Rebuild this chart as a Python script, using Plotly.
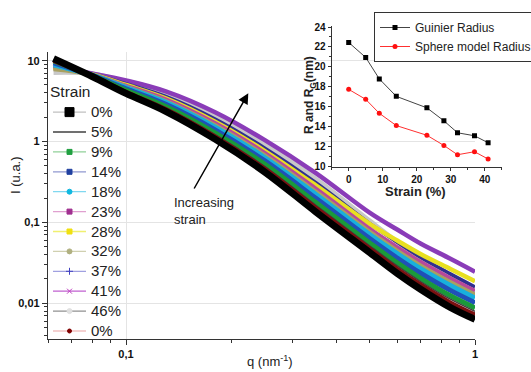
import plotly.graph_objects as go

# ---------------- data ----------------
q = [0.062, 0.08, 0.1, 0.13, 0.18, 0.25, 0.35, 0.5, 0.6, 0.7, 0.85, 1.0]

I_0 = [10.6, 6.37, 3.94, 2.36, 1.07, 0.419, 0.1346, 0.0421, 0.0232, 0.01475, 0.00885, 0.0063]
I_0b = [10.0, 6.43, 4.08, 2.50, 1.15, 0.458, 0.1503, 0.0471, 0.0263, 0.01682, 0.01016, 0.00721]
I_5 = [10.2, 6.46, 4.19, 2.60, 1.215, 0.489, 0.1625, 0.0510, 0.0287, 0.0184, 0.01121, 0.00793]
I_9 = [9.9, 6.50, 4.30, 2.71, 1.28, 0.521, 0.1755, 0.0553, 0.0313, 0.02018, 0.01235, 0.00873]
I_14 = [9.4, 6.56, 4.48, 2.88, 1.395, 0.575, 0.1983, 0.0626, 0.0359, 0.02329, 0.01439, 0.01014]
I_18 = [8.9, 6.62, 4.65, 3.05, 1.506, 0.630, 0.2216, 0.0701, 0.0407, 0.0265, 0.01653, 0.01161]
I_32 = [7.8, 6.65, 4.77, 3.17, 1.589, 0.671, 0.2394, 0.0760, 0.0444, 0.02906, 0.01822, 0.01277]
I_23 = [8.6, 6.70, 4.91, 3.32, 1.690, 0.722, 0.2616, 0.0831, 0.0491, 0.03225, 0.02036, 0.01424]
I_28 = [8.2, 6.73, 5.00, 3.42, 1.756, 0.762, 0.2858, 0.0953, 0.0592, 0.0403, 0.0265, 0.0187]
I_37 = [8.0, 6.79, 5.19, 3.61, 1.896, 0.827, 0.309, 0.0964, 0.0563, 0.0367, 0.02307, 0.01588]
I_46 = [7.1, 6.87, 5.44, 3.89, 2.094, 0.931, 0.345, 0.1043, 0.0570, 0.0349, 0.02065, 0.01386]
I_41 = [8.46, 6.94, 5.69, 4.17, 2.30, 1.04, 0.407, 0.131, 0.0809, 0.0543, 0.0355, 0.0245]

strain_labels = ["0%", "5%", "9%", "14%", "18%", "23%", "28%", "32%", "37%", "41%", "46%", "0%"]

x_tickvals = [0.1, 1]
x_ticktext = ["0,1", "1"]
y_tickvals = [0.01, 0.1, 1, 10]
y_ticktext = ["0,01", "0,1", "1", "10"]

inset_strain = [0, 5, 9, 14, 23, 28, 32, 37, 41]
guinier_radius = [22.45, 20.95, 18.8, 17.05, 15.9, 14.6, 13.4, 13.1, 12.4]
sphere_radius = [17.75, 16.75, 15.35, 14.12, 13.15, 12.13, 11.2, 11.5, 10.77]
inset_xticks = [0, 10, 20, 30, 40]
inset_yticks = [10, 12, 14, 16, 18, 20, 22, 24]

# ---------------- layout helpers ----------------
W, H = 531, 372
ML, MR, MT, MB = 48, 29, 24, 33
PW, PH = W - ML - MR, H - MT - MB


def px(x):
    return (x - ML) / PW


def py(y):
    return (H - MB - y) / PH


FONT = "Liberation Sans, Arial, sans-serif"

fig = go.Figure()

# ---------------- main curves ----------------
curves = [
    (I_46, "#c8c8c8", 4.5),
    (I_41, "#8a3cb8", 4.5),
    (I_37, "#303090", 3.5),
    (I_28, "#e8e020", 4.5),
    (I_23, "#b8489c", 4.0),
    (I_32, "#a8a060", 4.0),
    (I_18, "#18b0dc", 5.0),
    (I_14, "#2050b8", 5.0),
    (I_9, "#1a9a3a", 5.0),
    (I_5, "#404040", 1.5),
    (I_0b, "#7a1010", 4.5),
    (I_0, "#000000", 7.0),
]
for vals, col, w in curves:
    fig.add_trace(go.Scatter(x=q, y=vals, mode="lines", line=dict(color=col, width=w, shape="spline", smoothing=1.0),
                             showlegend=False, hoverinfo="skip", xaxis="x", yaxis="y"))

# ---------------- main legend entries ----------------
leg_styles = [
    ("square", 9, "#000000", "#c0c0c0", "lines+markers"),
    ("circle", 1, "#404040", "#404040", "lines"),
    ("square", 5, "#20a040", "#90d098", "lines+markers"),
    ("square", 5, "#2040a0", "#9098d0", "lines+markers"),
    ("circle", 5, "#10b8e0", "#80d8f0", "lines+markers"),
    ("square", 5, "#a03090", "#e0a0d0", "lines+markers"),
    ("square", 5, "#f0e010", "#f0f070", "lines+markers"),
    ("circle", 5, "#b0b080", "#d0d0b0", "lines+markers"),
    ("cross-thin", 5, "#4040c0", "#a0a0e0", "lines+markers"),
    ("x-thin", 5, "#c040c0", "#c060d0", "lines+markers"),
    ("circle", 5, "#e0e0e0", "#909090", "lines+markers"),
    ("circle", 4, "#800000", "#f0c0c0", "lines+markers"),
]
for lab, (sym, sz, mc, lc, mode) in zip(strain_labels, leg_styles):
    fig.add_trace(go.Scatter(x=[None], y=[None], mode=mode,
                             name='<span style="font-size:15px">' + lab + '</span>',
                             line=dict(color=lc, width=1.3),
                             marker=dict(symbol=sym, size=sz, color=mc, line=dict(color=mc, width=1)),
                             xaxis="x", yaxis="y", legend="legend"))

# ---------------- inset ----------------
fig.add_trace(go.Scatter(x=inset_strain, y=guinier_radius, mode="lines+markers",
                         name='<span style="font-size:12px">Guinier Radius</span>',
                         line=dict(color="#444444", width=1),
                         marker=dict(symbol="square", size=5, color="#000000"),
                         xaxis="x2", yaxis="y2", legend="legend2"))
fig.add_trace(go.Scatter(x=inset_strain, y=sphere_radius, mode="lines+markers",
                         name='<span style="font-size:12px">Sphere model Radius</span>',
                         line=dict(color="#ff3030", width=1),
                         marker=dict(symbol="circle", size=5, color="#ff1010"),
                         xaxis="x2", yaxis="y2", legend="legend2"))

minor_x = [m * 0.01 for m in (6, 7, 8, 9)] + [m * 0.1 for m in range(2, 10)]
minor_y = [m * 10.0 ** e for e in (-3, -2, -1, 0, 1) for m in range(2, 10)]
minor_y = [v for v in minor_y if 0.0036 < v < 12.8]

axis_col = "#333333"
fig.update_layout(
    width=W, height=H,
    margin=dict(l=ML, r=MR, t=MT, b=MB, autoexpand=False),
    paper_bgcolor="white", plot_bgcolor="rgba(0,0,0,0)",
    font=dict(family=FONT, color="#222222"),
    xaxis=dict(type="log", domain=[0, px(475)], range=[-1.2235, 0], showline=True, linecolor=axis_col,
               linewidth=1.3, ticks="outside", ticklen=5, tickcolor=axis_col, tickvals=x_tickvals,
               ticktext=x_ticktext, tickfont=dict(size=11, weight="bold", color="#111"),
               showgrid=True, gridcolor="#e4e4e4", gridwidth=1, zeroline=False, anchor="y",
               minor=dict(tickvals=minor_x, ticks="outside", ticklen=3, tickcolor=axis_col, showgrid=False)),
    yaxis=dict(type="log", domain=[0, py(52)], range=[-2.443, 1.107], showline=True, linecolor=axis_col,
               linewidth=1.3, ticks="outside", ticklen=5, tickcolor=axis_col, tickvals=y_tickvals,
               ticktext=y_ticktext, tickfont=dict(size=11, weight="bold", color="#111"),
               showgrid=True, gridcolor="#e4e4e4", gridwidth=1, zeroline=False, anchor="x",
               minor=dict(tickvals=minor_y, ticks="outside", ticklen=3, tickcolor=axis_col, showgrid=False)),
    xaxis2=dict(domain=[px(331.7), px(501.7)], range=[-5, 45], anchor="y2", showline=True, linecolor=axis_col,
                linewidth=1, ticks="outside", ticklen=3, tickcolor=axis_col, tickvals=inset_xticks,
                tickfont=dict(size=10, weight="bold", color="#111"), showgrid=False, zeroline=False,
                minor=dict(dtick=5, tick0=0, ticks="outside", ticklen=2, tickcolor=axis_col, showgrid=False)),
    yaxis2=dict(domain=[py(166.7), py(26)], range=[10, 24.1], anchor="x2", showline=True, linecolor=axis_col,
                linewidth=1, ticks="outside", ticklen=3, tickcolor=axis_col, tickvals=inset_yticks,
                tickfont=dict(size=10, weight="bold", color="#111"), showgrid=False, zeroline=False,
                minor=dict(dtick=1, tick0=0, ticks="outside", ticklen=2, tickcolor=axis_col, showgrid=False)),
    legend=dict(x=px(48), y=py(77), xanchor="left", yanchor="top", bgcolor="rgba(0,0,0,0)",
                title=dict(text="Strain", font=dict(size=15.5, family=FONT, color="#222")),
                font=dict(size=13, family=FONT, color="#222"), itemwidth=33, tracegroupgap=0),
    legend2=dict(x=px(374), y=py(12), xanchor="left", yanchor="top", bgcolor="white",
                 bordercolor="#333333", borderwidth=1, font=dict(size=11, family=FONT, color="#222"),
                 itemwidth=30),
    showlegend=True,
)

annotations = [
    dict(text="I (u.a.)", x=px(15), y=py(175), textangle=-90, font=dict(size=13)),
    dict(text="q (nm<sup>-1</sup>)", x=px(270), y=py(361), font=dict(size=13)),
    dict(text="<b>R and R<sub>G</sub>(nm)</b>", x=px(310), y=py(95), textangle=-90, font=dict(size=12)),
    dict(text="<b>Strain (%)</b>", x=px(415), y=py(191), font=dict(size=13)),
    dict(text="Increasing<br>strain", x=px(172), y=py(211), xanchor="left", align="left", font=dict(size=13)),
]
for a in annotations:
    a.update(xref="paper", yref="paper", showarrow=False)
    if "xanchor" not in a:
        a["xanchor"] = "center"
    a["yanchor"] = "middle"
    fig.add_annotation(**a)

fig.add_annotation(x=px(248.3), y=py(93.3), xref="paper", yref="paper", ax=-55, ay=96.7,
                   showarrow=True, arrowhead=2, arrowsize=1.4, arrowwidth=1.5, arrowcolor="#000000", text="")

fig.write_html("out.html")
